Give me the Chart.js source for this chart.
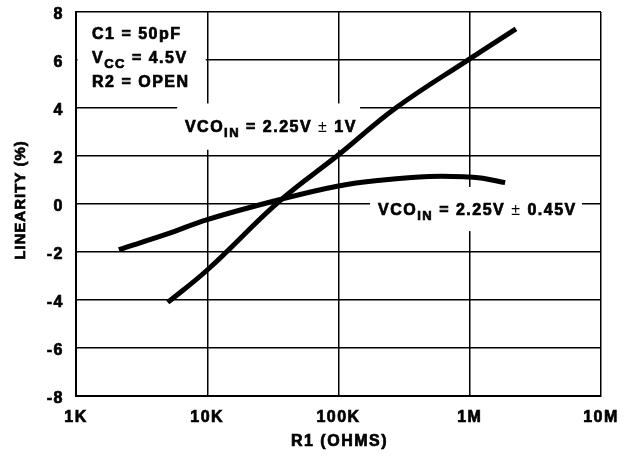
<!DOCTYPE html>
<html>
<head>
<meta charset="utf-8">
<script src="https://cdn.jsdelivr.net/npm/chart.js@4.4.1/dist/chart.umd.min.js"></script>
<style>
  html, body { margin: 0; padding: 0; background: #fff; }
  #wrap { width: 631px; height: 458px; position: relative; }
</style>
</head>
<body>
<div id="wrap"><canvas id="linChart"></canvas></div>
<script>
// values (R1 in ohms, linearity in %)
const xTickValues = [1e3, 1e4, 1e5, 1e6, 1e7];
const xTickLabels = ['1K', '10K', '100K', '1M', '10M'];

const wideR1 = [5000, 10000, 35500, 100000, 273000, 1000000, 2250000];
const wideLin = [-4.1, -2.75, 0.12, 2.05, 4.0, 6.05, 7.3];

const narrowR1 = [2120, 4900, 10000, 35500, 100000, 218000, 490000, 1000000, 1260000, 1860000];
const narrowLin = [-1.9, -1.26, -0.65, 0.18, 0.75, 1.0, 1.15, 1.13, 1.07, 0.89];

const FONT = '"Liberation Sans", Arial, Helvetica, sans-serif';
const STROKE = 0.7;

function toPoints(xs, ys) {
  return xs.map((x, i) => ({ x: x, y: ys[i] }));
}

function heavyText(ctx, t, x, y) {
  ctx.fillText(t, x, y);
  ctx.strokeText(t, x, y);
}

// draws a line of text made of plain, subscript and light parts
function drawRich(ctx, x, y, parts) {
  parts.forEach(p => {
    if (p.sub) {
      ctx.font = 'bold 13px ' + FONT;
      heavyText(ctx, p.t, x, y + 5);
    } else if (p.light) {
      ctx.font = '16px ' + FONT;
      ctx.fillText(p.t, x, y);
    } else {
      ctx.font = 'bold 16px ' + FONT;
      heavyText(ctx, p.t, x, y);
    }
    x += ctx.measureText(p.t).width;
  });
}

const notes = {
  id: 'notes',
  beforeDraw(chart) {
    chart.ctx.letterSpacing = '1.5px';
  },
  beforeDatasetsDraw(chart) {
    const ctx = chart.ctx;
    const xs = chart.scales.x, ys = chart.scales.y;
    const area = chart.chartArea;
    const px = v => xs.getPixelForValue(v);
    const py = v => ys.getPixelForValue(v);
    ctx.save();
    ctx.fillStyle = '#fff';
    // white backing boxes that break the grid
    ctx.fillRect(area.left + 1.5, py(7.3), px(1e4) - 1.5 - (area.left + 1.5), py(4.3) - py(7.3));
    ctx.fillRect(px(5900), py(4.19), px(146000) - px(5900), py(2.26) - py(4.19));
    ctx.fillRect(px(174000), py(0.71), px(7.16e6) - px(174000), py(-1.13) - py(0.71));

    ctx.fillStyle = '#000';
    ctx.strokeStyle = '#000';
    ctx.lineWidth = STROKE;
    ctx.textAlign = 'left';
    ctx.textBaseline = 'alphabetic';
    ctx.letterSpacing = '1.5px';
    const tx = area.left + 16;
    drawRich(ctx, tx, py(6.86), [{ t: 'C1 = 50pF' }]);
    drawRich(ctx, tx, py(5.86), [{ t: 'V' }, { t: 'CC', sub: true }, { t: ' = 4.5V' }]);
    drawRich(ctx, tx, py(4.86), [{ t: 'R2 = OPEN' }]);
    drawRich(ctx, px(6760), py(3.02), [{ t: 'VCO' }, { t: 'IN', sub: true }, { t: ' = 2.25V ' }, { t: '±', light: true }, { t: ' 1V' }]);
    drawRich(ctx, px(200000), py(-0.46), [{ t: 'VCO' }, { t: 'IN', sub: true }, { t: ' = 2.25V ' }, { t: '±', light: true }, { t: ' 0.45V' }]);
    ctx.restore();
  },
  afterDraw(chart) {
    // axis titles, drawn here so they get the same heavy weight as the reference
    const ctx = chart.ctx;
    const area = chart.chartArea;
    ctx.save();
    ctx.fillStyle = '#000';
    ctx.strokeStyle = '#000';
    ctx.lineWidth = STROKE;
    ctx.letterSpacing = '1.5px';
    ctx.textAlign = 'center';
    ctx.textBaseline = 'middle';
    ctx.font = 'bold 16px ' + FONT;
    heavyText(ctx, 'R1 (OHMS)', (area.left + area.right) / 2 + 1, chart.height - 16);
    ctx.translate(21, (area.top + area.bottom) / 2 - 4);
    ctx.rotate(-Math.PI / 2);
    ctx.letterSpacing = '1px';
    ctx.font = 'bold 15px ' + FONT;
    heavyText(ctx, 'LINEARITY (%)', 0, 0);
    ctx.restore();
  }
};

new Chart(document.getElementById('linChart'), {
  type: 'line',
  data: {
    datasets: [{
      label: 'VCOIN = 2.25V ± 1V',
      data: toPoints(wideR1, wideLin),
      borderColor: '#000',
      borderWidth: 5,
      pointRadius: 0,
      tension: 0.4,
      fill: false
    }, {
      label: 'VCOIN = 2.25V ± 0.45V',
      data: toPoints(narrowR1, narrowLin),
      borderColor: '#000',
      borderWidth: 5,
      pointRadius: 0,
      tension: 0.4,
      fill: false
    }]
  },
  options: {
    responsive: true,
    maintainAspectRatio: false,
    animation: false,
    layout: { padding: { left: 0, top: 12, right: 30, bottom: 0 } },
    plugins: {
      legend: { display: false },
      tooltip: { enabled: false }
    },
    scales: {
      x: {
        type: 'logarithmic',
        min: 1e3,
        max: 1e7,
        afterBuildTicks: scale => {
          scale.ticks = xTickValues.map(v => ({ value: v }));
        },
        afterFit: scale => { scale.height = 62; },
        ticks: {
          color: '#000',
          padding: 12,
          maxRotation: 0,
          autoSkip: false,
          textStrokeColor: '#000',
          textStrokeWidth: STROKE,
          font: { family: FONT, size: 16, weight: 'bold' },
          callback: value => {
            const i = xTickValues.indexOf(value);
            return i >= 0 ? xTickLabels[i] : '';
          }
        },
        grid: { color: '#000', lineWidth: 1.5, drawTicks: false },
        border: { color: '#000', width: 2 },
        title: { display: false }
      },
      y: {
        min: -8,
        max: 8,
        afterFit: scale => {
          scale.width = 76;
          scale.paddingTop = 0;
          scale.paddingBottom = 0;
        },
        ticks: {
          stepSize: 2,
          color: '#000',
          padding: 12,
          labelOffset: 3,
          textStrokeColor: '#000',
          textStrokeWidth: STROKE,
          font: { family: FONT, size: 16, weight: 'bold' }
        },
        grid: { color: '#000', lineWidth: 1.5, drawTicks: false },
        border: { color: '#000', width: 2 },
        title: { display: false }
      }
    }
  },
  plugins: [notes]
});
</script>
</body>
</html>
